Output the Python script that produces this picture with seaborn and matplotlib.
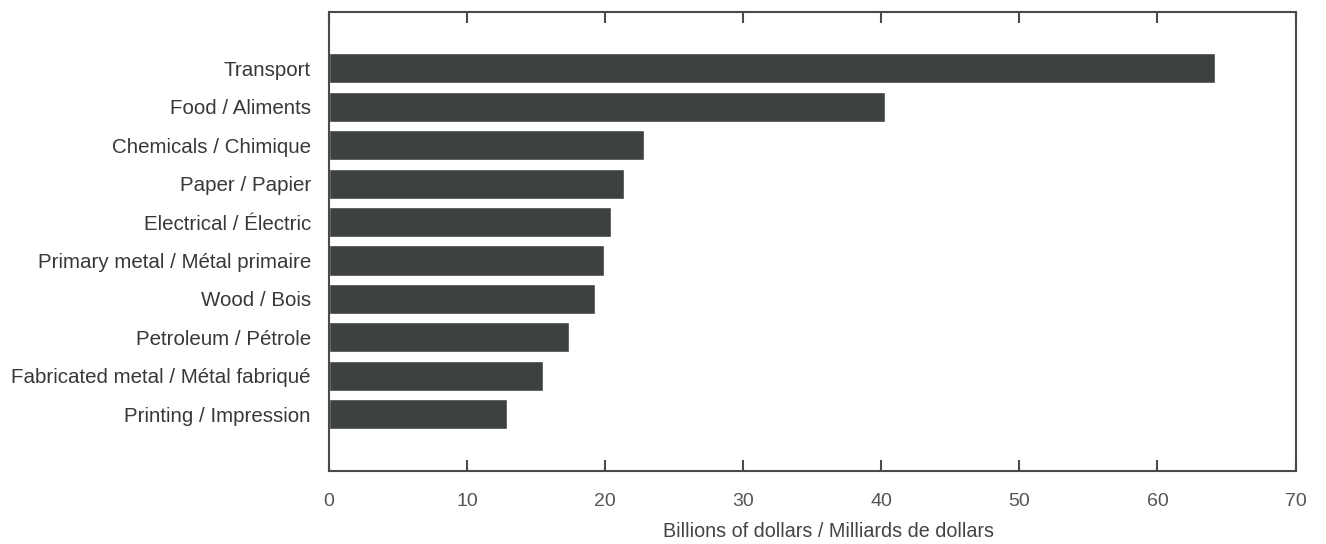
import matplotlib.pyplot as plt
import seaborn as sns
import pandas as pd

# industries, largest first
industries = [
    "Transport",
    "Food / Aliments",
    "Chemicals / Chimique",
    "Paper / Papier",
    "Electrical / Électric",
    "Primary metal / Métal primaire",
    "Wood / Bois",
    "Petroleum / Pétrole",
    "Fabricated metal / Métal fabriqué",
    "Printing / Impression",
]
billions = [64.2, 40.3, 22.8, 21.4, 20.4, 19.9, 19.3, 17.4, 15.5, 12.9]
x_ticks = [0, 10, 20, 30, 40, 50, 60, 70]

df = pd.DataFrame({"industry": industries, "value": billions})

sns.set_style("white")
plt.rcParams["font.family"] = ["Liberation Sans", "DejaVu Sans"]

fig = plt.figure(figsize=(13.26, 5.44), dpi=100)
ax = fig.add_axes([0.248, 0.135, 0.729, 0.843])

sns.barplot(data=df, x="value", y="industry", orient="h", color="#3d423e",
            saturation=1, width=0.78, ax=ax)

ax.set_xlim(0, 70)
ax.set_ylim(len(industries) - 1 + 1.46, -1.46)
ax.set_xticks(x_ticks)
ax.set_xticklabels([str(t) for t in x_ticks])

for s in ax.spines.values():
    s.set_color("#4a4a4a")
    s.set_linewidth(1.5)
    s.set_visible(True)

ax.tick_params(axis="x", direction="in", length=8, width=1.5, color="#4a4a4a",
               top=True, bottom=True, labelsize=14, labelcolor="#555555", pad=16)
ax.tick_params(axis="y", length=0, labelsize=14.8, labelcolor="#383838", pad=13)

ax.set_ylabel("")
ax.set_xlabel("Billions of dollars / Milliards de dollars", fontsize=14.2,
              color="#444444")
ax.xaxis.set_label_coords(0.517, -0.112)

fig.savefig("out.png", dpi=100)
plt.close(fig)
